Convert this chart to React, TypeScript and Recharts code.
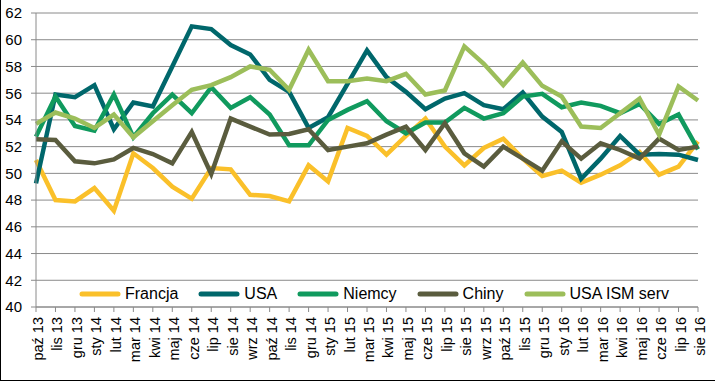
import React from 'react';
import { LineChart, Line, XAxis, YAxis, CartesianGrid, Legend } from 'recharts';

const categories = ['paź 13','lis 13','gru 13','sty 14','lut 14','mar 14','kwi 14','maj 14','cze 14','lip 14','sie 14','wrz 14','paź 14','lis 14','gru 14','sty 15','lut 15','mar 15','kwi 15','maj 15','cze 15','lip 15','sie 15','wrz 15','paź 15','lis 15','gru 15','sty 16','lut 16','mar 16','kwi 16','maj 16','cze 16','lip 16','sie 16'];

const francja = [51.0, 48.0, 47.9, 48.9, 47.2, 51.5, 50.4, 49.0, 48.1, 50.4, 50.3, 48.4, 48.3, 47.9, 50.6, 49.4, 53.4, 52.8, 51.4, 52.8, 54.1, 52.0, 50.6, 51.9, 52.6, 51.1, 49.8, 50.2, 49.3, 49.9, 50.6, 51.6, 49.9, 50.5, 52.4];
const usa = [49.25, 55.9, 55.7, 56.6, 53.3, 55.3, 55.0, 58.0, 61.0, 60.8, 59.6, 58.9, 57.0, 56.1, 53.4, 54.2, 56.7, 59.2, 57.2, 56.1, 54.8, 55.6, 56.0, 55.1, 54.8, 56.05, 54.25, 53.1, 49.6, 51.1, 52.8, 51.4, 51.45, 51.4, 51.0];
const niemcy = [52.75, 55.75, 53.55, 53.2, 55.9, 52.7, 54.5, 55.9, 54.5, 56.45, 54.9, 55.7, 54.4, 52.1, 52.1, 54.0, 54.75, 55.4, 53.9, 53.0, 53.8, 53.8, 54.9, 54.1, 54.5, 55.75, 55.95, 54.95, 55.3, 55.05, 54.5, 55.2, 53.7, 54.4, 51.8];
const chiny = [52.55, 52.5, 50.9, 50.75, 51.05, 51.9, 51.45, 50.75, 53.1, 49.95, 54.1, 53.5, 52.9, 52.95, 53.3, 51.75, 52.0, 52.25, 52.9, 53.5, 51.75, 53.75, 51.5, 50.5, 52.0, 51.1, 50.2, 52.4, 51.1, 52.25, 51.75, 51.1, 52.6, 51.75, 52.0];
const usaIsmServ = [53.7, 54.55, 54.1, 53.4, 54.4, 52.7, 53.9, 55.1, 56.25, 56.6, 57.2, 58.0, 57.75, 56.25, 59.25, 56.9, 56.9, 57.1, 56.9, 57.45, 55.9, 56.2, 59.5, 58.2, 56.6, 58.3, 56.55, 55.75, 53.5, 53.4, 54.5, 55.6, 52.9, 56.5, 55.45];

const yTicks = [40, 42, 44, 46, 48, 50, 52, 54, 56, 58, 60, 62];

const seriesNames = ['Francja', 'USA', 'Niemcy', 'Chiny', 'USA ISM serv'];
const seriesKeys = ['francja', 'usa', 'niemcy', 'chiny', 'ism'];
const seriesColors = ['#FAC02A', '#00676B', '#109A5E', '#5A5C3E', '#9CBE5A'];
const seriesValues = [francja, usa, niemcy, chiny, usaIsmServ];

const data = categories.map((c, i) => {
  const row: Record<string, string | number> = { cat: c };
  seriesKeys.forEach((k, j) => { row[k] = seriesValues[j][i]; });
  return row;
});

const FONT = '"Liberation Sans", Arial, sans-serif';
const GRID = '#8A8A8A';

const XTick = (props: any) => {
  const { x, y, payload } = props;
  return (
    <text
      transform={`translate(${x + 7}, ${y + 3}) rotate(-90)`}
      textAnchor="end"
      fontFamily={FONT}
      fontSize={14.5}
      fill="#000"
    >
      {payload.value}
    </text>
  );
};

const renderLegend = () => (
  <div style={{ display: 'flex', alignItems: 'center', fontFamily: FONT, fontSize: 16, color: '#000', whiteSpace: 'nowrap' }}>
    {seriesNames.map((n, i) => (
      <div key={n} style={{ display: 'flex', alignItems: 'center', marginRight: 20 }}>
        <svg width={42} height={8} style={{ display: 'block' }}>
          <line x1={3} y1={4} x2={39} y2={4} stroke={seriesColors[i]} strokeWidth={5} strokeLinecap="round" />
        </svg>
        <span style={{ marginLeft: 4, lineHeight: '18px' }}>{n}</span>
      </div>
    ))}
  </div>
);

export default function App() {
  return (
    <div style={{ position: 'absolute', left: 0, top: 0, width: 715, height: 381, background: '#fff', borderLeft: '1px solid #000', borderBottom: '1px solid #000', boxSizing: 'border-box' }}>
      <div style={{ position: 'absolute', left: -1, top: 0 }}>
        <LineChart width={715} height={381} data={data} margin={{ top: 13, right: 17, left: 0, bottom: 0 }}>
          <CartesianGrid vertical={false} stroke={GRID} strokeWidth={1} />
          <XAxis
            dataKey="cat"
            interval={0}
            tick={<XTick />}
            tickSize={5}
            height={74}
            axisLine={{ stroke: GRID }}
            tickLine={{ stroke: GRID }}
          />
          <YAxis
            domain={[40, 62]}
            ticks={yTicks}
            width={36}
            tickSize={5}
            tickMargin={9}
            axisLine={{ stroke: GRID }}
            tickLine={{ stroke: GRID }}
            tick={{ fontFamily: FONT, fontSize: 15, fill: '#000' }}
          />
          <Legend
            layout="horizontal"
            verticalAlign="middle"
            align="center"
            content={renderLegend}
            wrapperStyle={{ left: 79, top: 285, width: 'auto' }}
          />
          {seriesKeys.map((k, i) => (
            <Line
              key={k}
              type="linear"
              dataKey={k}
              name={seriesNames[i]}
              stroke={seriesColors[i]}
              strokeWidth={4.5}
              dot={false}
              activeDot={false}
              isAnimationActive={false}
            />
          ))}
        </LineChart>
      </div>
    </div>
  );
}
